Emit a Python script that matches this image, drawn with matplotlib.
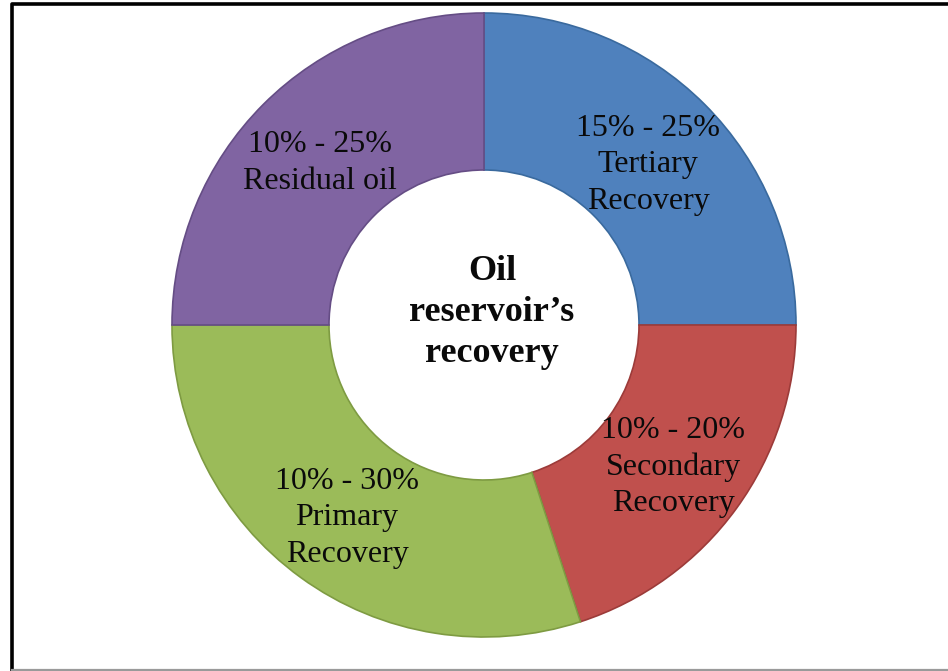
import matplotlib
matplotlib.use("Agg")
import matplotlib.pyplot as plt

plt.rcParams['font.family'] = ['Liberation Serif', 'DejaVu Serif']

# slices, clockwise from 12 o'clock
names = ["Tertiary\nRecovery", "Secondary\nRecovery",
         "Primary\nRecovery", "Residual oil"]
ranges = ["15% - 25%", "10% - 20%", "10% - 30%", "10% - 25%"]
shares = [25, 20, 30, 25]
colors = ["#4F81BD", "#C0504D", "#9BBB59", "#8064A2"]
edges = ["#3A6A9E", "#9C3B39", "#7E9B42", "#654D85"]
center_title = "Oil\nreservoir\u2019s\nrecovery"

W, H = 948, 671
cx, cy, R = 484, 325, 312


def px(x, y):
    # pixel position -> data coords (radius 1 = R pixels)
    return (x - cx) / R, (cy - y) / R


fig = plt.figure(figsize=(W / 100, H / 100), dpi=100)
ax = fig.add_axes([0, 0, 1, 1])

wedges, _ = ax.pie(shares, colors=colors, startangle=90, counterclock=False,
                   radius=1.0,
                   wedgeprops=dict(width=1 - 155 / R, linewidth=1.2))
for w, ec in zip(wedges, edges):
    w.set_edgecolor(ec)

x0, y0 = px(0, H)
x1, y1 = px(W, 0)
ax.set_xlim(x0, x1)
ax.set_ylim(y0, y1)
ax.set_aspect('equal', adjustable='box')
ax.axis('off')

# outer frame: black top/left, grey bottom
lx, ty = px(11.5, 3.5)
_, by = px(0, 669.5)
ax.plot([lx, lx, x1], [by, ty, ty], color='black', lw=2.6,
        solid_capstyle='projecting')
ax.plot([lx, x1], [by, by], color='#9a9a9a', lw=1.6)

label_pos = [(648, 165), (673, 467), (347, 518), (320, 163)]
for (lx_, ly_), rg, nm in zip(label_pos, ranges, names):
    tx, ty_ = px(lx_, ly_)
    ax.text(tx, ty_, rg + "\n" + nm, ha='center', va='center',
            fontsize=23, linespacing=1.32, color='#0a0a0a')

tx, ty_ = px(492, 313)
ax.text(tx, ty_, center_title, ha='center', va='center', fontsize=26,
        fontweight='bold', linespacing=1.32, color='#0a0a0a')

fig.savefig("out.png", dpi=100)
